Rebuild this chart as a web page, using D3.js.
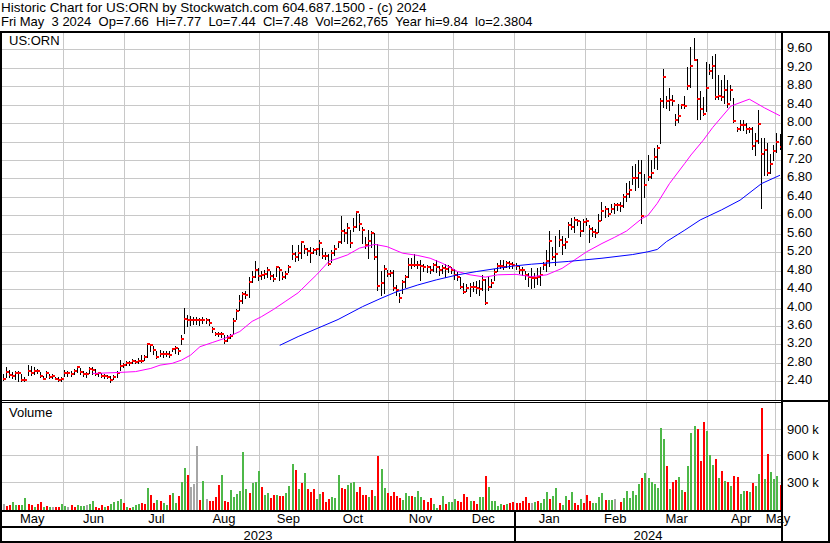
<!DOCTYPE html>
<html><head><meta charset="utf-8">
<script src="https://cdn.jsdelivr.net/npm/d3@7/dist/d3.min.js"></script>
<style>
html,body{margin:0;padding:0;background:#fff;}
svg{display:block;}
text{font-family:"Liberation Sans", Arial, sans-serif;font-size:13px;fill:#000;white-space:pre;}
</style></head><body>
<svg id="c" width="830" height="543"></svg>
<script>
// ---------------- data ----------------
const titleLine1 = "Historic Chart for US:ORN by Stockwatch.com 604.687.1500 - (c) 2024";
const titleLine2 = "Fri May  3 2024  Op=7.66  Hi=7.77  Lo=7.44  Cl=7.48  Vol=262,765  Year hi=9.84  lo=2.3804";
const symbol = "US:ORN";
const volumeTitle = "Volume";
const monthLabels = ["May","Jun","Jul","Aug","Sep","Oct","Nov","Dec","Jan","Feb","Mar","Apr","May"];
const monthStarts = [0,20,40,61,84,103,126,147,167,190,210,230,252];
const yearLabels = ["2023","2024"];
const yearStarts = [0,167];
const priceTicks = [2.4,2.8,3.2,3.6,4.0,4.4,4.8,5.2,5.6,6.0,6.4,6.8,7.2,7.6,8.0,8.4,8.8,9.2,9.6];
const volumeTicks = [300,600,900];           // thousands
const volumeTickLabels = ["300 k","600 k","900 k"];

const highs = [
2.56,2.70,2.64,2.60,2.62,2.62,2.55,2.50,2.76,2.74,2.72,2.66,2.60,2.52,2.62,2.55,2.56,2.50,2.50,2.49,
2.65,2.63,2.62,2.66,2.73,2.68,2.62,2.60,2.72,2.70,2.66,2.61,2.57,2.56,2.54,2.51,2.54,2.62,2.86,2.80,
2.84,2.83,2.88,2.87,2.90,2.97,2.96,3.22,3.21,3.16,3.06,3.08,3.06,3.06,3.05,3.13,3.16,3.12,3.40,4.00,3.84,
3.82,3.80,3.80,3.78,3.80,3.78,3.76,3.58,3.47,3.48,3.46,3.40,3.40,3.42,3.77,3.97,4.27,4.33,4.35,4.66,4.80,5.00,
4.85,4.80,4.82,4.87,4.80,4.72,4.90,4.87,4.78,4.80,4.92,5.35,5.20,5.35,5.45,5.35,5.30,5.32,5.30,5.30,
5.47,5.30,5.20,5.17,5.24,5.35,5.45,5.99,5.70,5.84,5.68,5.94,6.09,6.04,5.75,5.52,5.68,5.65,5.62,5.37,4.80,4.92,4.82,
4.82,4.81,4.49,4.31,4.60,4.71,5.07,5.07,5.17,5.00,5.03,4.95,4.92,4.90,4.96,5.03,4.90,4.92,4.94,4.92,4.87,
4.83,4.78,4.67,4.54,4.50,4.54,4.56,4.58,4.60,4.71,4.62,4.67,4.62,4.83,4.96,5.03,5.03,5.02,5.00,4.98,
4.96,4.90,4.87,4.80,4.76,4.85,4.75,4.85,4.88,4.99,5.24,5.67,5.31,5.55,5.69,5.55,5.51,5.86,5.95,5.96,5.93,5.88,
5.92,5.95,5.78,5.74,5.70,6.03,6.29,6.21,6.17,6.25,6.27,6.27,6.28,6.47,6.70,6.74,7.07,7.12,7.20,7.20,
6.90,7.31,7.20,7.47,7.52,8.54,9.18,8.58,8.76,8.61,8.20,8.42,8.41,8.58,9.22,9.65,9.84,9.40,8.70,8.56,
9.32,9.28,9.45,9.49,9.04,8.93,9.04,8.93,8.82,8.54,7.92,8.07,8.07,8.00,7.92,7.92,7.78,8.28,7.67,7.67,7.56,7.34,7.52,
7.78,7.77];
const lows = [
2.42,2.50,2.50,2.48,2.45,2.40,2.40,2.41,2.54,2.53,2.56,2.57,2.49,2.45,2.50,2.48,2.48,2.44,2.40,2.41,
2.52,2.52,2.52,2.55,2.60,2.55,2.52,2.50,2.58,2.56,2.53,2.52,2.49,2.48,2.47,2.38,2.44,2.49,2.64,2.70,
2.75,2.76,2.80,2.80,2.80,2.82,2.87,2.93,3.05,3.00,2.91,2.95,2.93,2.95,2.92,3.06,3.02,3.00,3.22,3.45,3.60,
3.62,3.64,3.65,3.62,3.66,3.66,3.62,3.47,3.40,3.38,3.36,3.24,3.28,3.33,3.43,3.75,3.95,4.10,4.20,4.23,4.56,4.66,
4.60,4.62,4.65,4.67,4.62,4.58,4.68,4.60,4.62,4.65,4.78,5.05,5.02,5.03,5.07,5.18,5.15,4.98,5.18,5.17,
5.14,5.08,5.05,4.92,4.98,5.13,5.32,5.39,5.45,5.39,5.32,5.65,5.75,5.68,5.39,5.30,5.07,5.32,5.05,4.38,4.27,4.31,4.68,
4.68,4.38,4.27,4.13,4.31,4.45,4.67,4.85,4.90,4.85,4.60,4.80,4.78,4.74,4.80,4.78,4.70,4.76,4.67,4.78,4.74,
4.63,4.60,4.42,4.31,4.35,4.24,4.35,4.31,4.27,4.38,4.08,4.38,4.45,4.60,4.80,4.85,4.83,4.87,4.85,4.85,
4.83,4.74,4.70,4.62,4.47,4.42,4.45,4.52,4.49,4.83,4.80,4.90,5.06,4.92,5.34,5.16,5.30,5.53,5.70,5.63,5.80,5.56,
5.65,5.80,5.42,5.56,5.52,5.63,5.90,5.97,5.99,6.07,6.05,6.11,6.10,6.18,6.32,6.40,6.69,6.55,6.62,5.83,
6.40,6.77,6.80,7.02,7.00,7.57,8.35,8.32,8.29,8.39,7.95,8.03,8.32,8.32,8.75,8.78,9.36,8.10,8.10,8.17,
8.27,9.07,8.98,8.53,8.53,8.50,8.43,8.35,8.50,8.03,7.82,7.85,7.85,7.78,7.80,7.45,7.31,7.56,6.15,6.88,6.88,6.91,7.19,
7.38,7.44];
const closes = [
2.46,2.61,2.54,2.52,2.58,2.58,2.42,2.43,2.63,2.59,2.62,2.62,2.51,2.46,2.58,2.50,2.52,2.46,2.43,2.45,
2.58,2.59,2.56,2.63,2.70,2.60,2.55,2.55,2.66,2.64,2.56,2.57,2.52,2.52,2.50,2.42,2.49,2.58,2.73,2.75,
2.80,2.79,2.84,2.82,2.84,2.84,2.92,3.20,3.18,3.08,2.93,3.00,3.00,3.00,2.97,3.11,3.13,3.05,3.32,3.75,3.73,
3.73,3.73,3.73,3.72,3.73,3.73,3.67,3.54,3.43,3.43,3.43,3.28,3.34,3.38,3.70,3.93,4.14,4.29,4.28,4.56,4.66,4.81,
4.69,4.71,4.72,4.81,4.69,4.61,4.87,4.81,4.67,4.72,4.87,5.16,5.10,5.19,5.43,5.26,5.23,5.19,5.25,5.26,
5.39,5.12,5.12,4.94,5.19,5.27,5.42,5.65,5.61,5.72,5.39,5.75,6.07,5.81,5.68,5.35,5.44,5.62,5.09,4.47,4.54,4.83,4.72,
4.76,4.42,4.38,4.20,4.56,4.67,4.92,4.92,4.92,4.93,4.90,4.87,4.87,4.81,4.92,4.87,4.81,4.86,4.83,4.87,4.81,
4.71,4.67,4.45,4.34,4.43,4.45,4.44,4.43,4.40,4.60,4.09,4.45,4.54,4.78,4.90,4.90,4.87,4.97,4.94,4.93,
4.90,4.81,4.81,4.70,4.67,4.65,4.65,4.67,4.70,4.92,5.02,5.45,5.10,5.17,5.47,5.36,5.43,5.80,5.75,5.90,5.88,5.65,
5.86,5.88,5.70,5.63,5.61,5.87,6.09,6.14,6.03,6.14,6.23,6.23,6.20,6.40,6.47,6.56,6.81,6.80,6.92,5.99,
6.65,6.84,6.92,7.26,7.47,8.49,9.00,8.48,8.51,8.49,8.07,8.16,8.39,8.37,8.80,9.24,9.38,8.53,8.30,8.20,
8.76,9.14,9.24,8.57,8.58,8.57,8.71,8.41,8.71,8.05,7.87,7.96,7.97,7.88,7.88,7.51,7.62,7.98,7.34,7.41,6.92,7.12,7.40,
7.59,7.48];

// volume in thousands
const volumes = [
40,25,30,65,35,30,30,110,40,30, 15,45,65,15,25,15,10,15,15,45, 25,15,30,15,35,20,20,30,50,80,
15,5,30,15,25,45,65,85,100,60, 15,5,15,35,50,55,40,
232,148,53,87,76,61,30,148,171,57,
137,296,456,376,239,273,706,91,308,106,
80,80,129,262,376,84,72,205,129,160,
194,638,217,171,285,296,421,239,148,167,
114,144,148,137,140,171,250,501,433,217,
285,395,213,182,213,99,160,179,68,99,
125,110,376,228,217,262,285,296,182,239,
148,148,125,205,137,593,445,228,167,141,
182,137,118,95,171,137,137,129,194,125,
91,72,114,46,5,34,137,46,68,68,
103,80,72,156,125,84,76,49,125,125,
365,239,80,80,23,46,34,42,53,68,
53,53,76,125,53,53,65,80,53,103,
182,99,137,228,53,30,137,91,182,53,
30,103,53,148,76,53,53,122,175,91,
91,91,103,0,68,118,194,118,194,144,
273,345,402,342,296,273,232,907,782,478,
217,296,319,353,205,182,478,854,934,900,
535,980,877,604,490,558,342,421,308,296,
251,365,353,160,194,194,182,285,251,387,
1136,334,616,410,330,365,263];
// colour class of each volume bar: u = up (green), d = down (red), n = unchanged (grey)
const volumeDir = [
"ndduuduudd","uddudunddu","undduuunuu","ddduduuuud","uduuudd",
"udduduuduu","duudnnndun","ddddudduuu","uuuduuuduu","ddudduuudu",
"duddduuddd","uuudduuudd","ddududuudd","ddduuuduuu","ddduududuu",
"uddddudduu","duuuuududd","dddddnuduu","uduuduudud","duddduuuud",
"uunuduuuuu","uduuuuuuud","udduuduuud","dduuududud","udduududuu",
"duduuud"].join("").split("");

const ma30 = [[29,2.57],[37,2.59],[43,2.61],[48,2.68],[51,2.75],[55,2.79],[58,2.86],[61,2.97],[64,3.15],[68,3.24],
[72,3.33],[77,3.48],[81,3.70],[84,3.80],[88,3.96],[92,4.14],[96,4.32],[102,4.71],[106,5.00],[112,5.14],[116,5.29],
[121,5.37],[125,5.32],[130,5.18],[135,5.13],[139,5.07],[143,4.96],[148,4.78],[152,4.71],[157,4.66],[161,4.71],
[167,4.72],[172,4.67],[177,4.71],[182,4.85],[186,5.03],[190,5.21],[195,5.39],[199,5.52],[203,5.66],[208,5.93],
[210,6.00],[213,6.26],[217,6.69],[222,7.13],[224,7.31],[228,7.63],[231,7.90],[237,8.37],[243,8.52],[248,8.33],[253,8.16]];
const ma90 = [[90,3.18],[96,3.37],[109,3.74],[117,4.02],[123,4.20],[128,4.34],[135,4.49],[141,4.60],[148,4.71],
[154,4.78],[161,4.85],[166,4.90],[172,4.94],[184,5.00],[195,5.07],[205,5.15],[210,5.21],[213,5.26],[216,5.43],
[222,5.68],[227,5.90],[234,6.12],[240,6.33],[247,6.69],[253,6.87]];

// ---------------- layout ----------------
const W = 830, H = 543;
const plotL = 2, plotR = 782, priceTop = 33, priceBot = 400, volTop = 403, volBot = 510,
      monthBot = 526, chartBot = 541, axisTextX = 787;
const colors = {grid:"#c8c8c8", bar:"#000", close:"#ff0000", up:"#4db848", down:"#ff0000", flat:"#a6a6a6",
                ma30:"#ff00ff", ma90:"#0000ff"};

const svg = d3.select("#c");
svg.append("rect").attr("width",W).attr("height",H).attr("fill","#fff");

const N = closes.length;
const x = d3.scaleLinear().domain([0, N-1]).range([3, 779.5]);
const y = d3.scaleLinear().domain([2.4, 9.6]).range([381.3, 49.4]);
const yv = d3.scaleLinear().domain([0, 900]).range([508, 429]);
const px = v => Math.round(v) + 0.5;

const g = svg.append("g").attr("shape-rendering","crispEdges");

// gridlines
priceTicks.forEach(t => {
  g.append("line").attr("x1",plotL).attr("x2",plotR).attr("y1",px(y(t))).attr("y2",px(y(t)))
   .attr("stroke",colors.grid);
});
volumeTicks.forEach(t => {
  g.append("line").attr("x1",plotL).attr("x2",plotR).attr("y1",px(yv(t))).attr("y2",px(yv(t)))
   .attr("stroke",colors.grid);
});
monthStarts.slice(1).forEach(m => {
  const xx = px(x(m - 0.5));
  g.append("line").attr("x1",xx).attr("x2",xx).attr("y1",priceTop).attr("y2",priceBot).attr("stroke",colors.grid);
  g.append("line").attr("x1",xx).attr("x2",xx).attr("y1",volTop).attr("y2",volBot).attr("stroke",colors.grid);
});

// price bars (high-low)
const idx = d3.range(N);
g.append("g").selectAll("rect").data(idx).join("rect")
  .attr("x", i => Math.round(x(i)))
  .attr("width", 1)
  .attr("y", i => Math.round(y(highs[i])))
  .attr("height", i => Math.max(1, Math.round(y(lows[i])) - Math.round(y(highs[i])) + 1))
  .attr("fill", colors.bar);

// moving averages
const line = d3.line().x(d => x(d[0]) + 0.5).y(d => y(d[1]));
svg.append("path").datum(ma30).attr("d", line).attr("fill","none").attr("stroke",colors.ma30).attr("stroke-width",1);
svg.append("path").datum(ma90).attr("d", line).attr("fill","none").attr("stroke",colors.ma90).attr("stroke-width",1);

// close markers
g.append("g").selectAll("rect").data(idx).join("rect")
  .attr("x", i => Math.round(x(i)))
  .attr("width", 3)
  .attr("y", i => Math.round(y(closes[i])) - 1)
  .attr("height", 2)
  .attr("fill", colors.close);

// volume bars
g.append("g").selectAll("rect").data(idx.filter(i => volumes[i] > 0)).join("rect")
  .attr("x", i => Math.round(x(i)))
  .attr("width", 2)
  .attr("y", i => Math.round(yv(volumes[i])))
  .attr("height", i => volBot - Math.round(yv(volumes[i])))
  .attr("fill", i => volumeDir[i] === "u" ? colors.up : volumeDir[i] === "d" ? colors.down : colors.flat);

// frame
const blk = (x0, y0, w, h) => g.append("rect").attr("x",x0).attr("y",y0).attr("width",w).attr("height",h).attr("fill","#000");
blk(0, 31, W, 2);              // top
blk(0, 31, 2, H - 31);         // left
blk(plotR - 1, 31, 2, H - 31); // plot right
blk(W - 2, 31, 2, H - 31);     // outer right
blk(0, priceBot, W, 1);        // separator (double)
blk(0, priceBot + 2, plotR, 1);
blk(plotR, priceBot, W - plotR, 2);
blk(0, volBot, plotR, 2);      // volume bottom
blk(0, monthBot, plotR, 2);    // month row bottom
blk(0, chartBot, W, 2);        // bottom
const yearSep = Math.round(x(yearStarts[1] - 0.5));
blk(yearSep, volBot, 2, H - volBot);

// texts
const T = svg.append("g");
T.append("text").attr("x",1).attr("y",12).style("font-size","13.5px").text(titleLine1);
T.append("text").attr("x",1).attr("y",26).text(titleLine2);
T.append("text").attr("x",9).attr("y",45).text(symbol);
T.append("text").attr("x",9).attr("y",417).text(volumeTitle);
priceTicks.forEach(t => {
  T.append("text").attr("x",axisTextX).attr("y",Math.round(y(t)) + 3).text(d3.format(".2f")(t));
});
volumeTicks.forEach((t,k) => {
  T.append("text").attr("x",axisTextX).attr("y",Math.round(yv(t)) + 5).text(volumeTickLabels[k]);
});
monthLabels.forEach((m,k) => {
  const a = monthStarts[k], b = k + 1 < monthStarts.length ? monthStarts[k+1] : N;
  const cx = (x(a - 0.5) + x(b - 0.5)) / 2;
  T.append("text").attr("x",cx).attr("y",523).attr("text-anchor","middle").text(m);
});
yearLabels.forEach((yl,k) => {
  const a = k === 0 ? plotL : x(yearStarts[k] - 0.5);
  const b = k + 1 < yearStarts.length ? x(yearStarts[k+1] - 0.5) : plotR;
  T.append("text").attr("x",(a+b)/2).attr("y",540).attr("text-anchor","middle").text(yl);
});
</script>
</body></html>
